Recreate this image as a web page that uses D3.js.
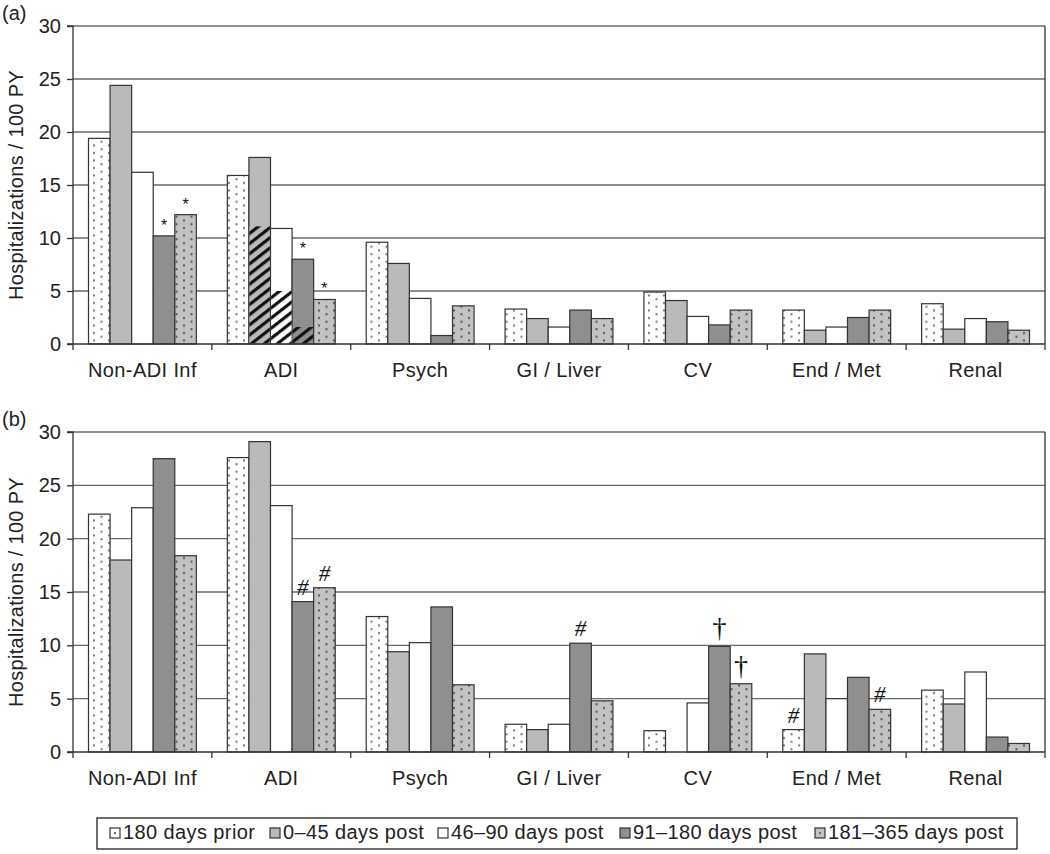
<!DOCTYPE html>
<html><head><meta charset="utf-8">
<script src="https://cdn.jsdelivr.net/npm/d3@7/dist/d3.min.js"></script>
<style>body{margin:0;background:#fff}svg{display:block}</style>
</head><body><svg id="c" width="1050" height="854"></svg>
<script>
const categories = ["Non-ADI Inf","ADI","Psych","GI / Liver","CV","End / Met","Renal"];
const seriesNames = ["180 days prior","0\u201345 days post","46\u201390 days post","91\u2013180 days post","181\u2013365 days post"];
const yTicks = [0,5,10,15,20,25,30];
// panel (a) values per category, series order
const valuesA = [
  [19.4,24.4,16.2,10.2,12.2],
  [15.9,17.6,10.9,8.0,4.2],
  [9.6,7.6,4.3,0.8,3.6],
  [3.3,2.4,1.6,3.2,2.4],
  [4.9,4.1,2.6,1.8,3.2],
  [3.2,1.3,1.6,2.5,3.2],
  [3.8,1.4,2.4,2.1,1.3]
];
// hatched sub-portion of ADI bars in panel (a)
const hatchA = [{cat:"ADI",s:1,v:11.1},{cat:"ADI",s:2,v:5.0},{cat:"ADI",s:3,v:1.6}];
const marksA = [{cat:"Non-ADI Inf",s:3,t:"*"},{cat:"Non-ADI Inf",s:4,t:"*"},{cat:"ADI",s:3,t:"*"},{cat:"ADI",s:4,t:"*"}];
// panel (b)
const valuesB = [
  [22.3,18.0,22.9,27.5,18.4],
  [27.6,29.1,23.1,14.1,15.4],
  [12.7,9.4,10.25,13.6,6.3],
  [2.6,2.1,2.6,10.2,4.8],
  [2.0,0,4.6,9.9,6.4],
  [2.1,9.2,5.0,7.0,4.0],
  [5.8,4.5,7.5,1.4,0.8]
];
const marksB = [{cat:"ADI",s:3,t:"#"},{cat:"ADI",s:4,t:"#"},{cat:"GI / Liver",s:3,t:"#"},{cat:"CV",s:3,t:"\u2020"},{cat:"CV",s:4,t:"\u2020"},{cat:"End / Met",s:0,t:"#"},{cat:"End / Met",s:4,t:"#"}];

const FONT = "Liberation Sans, Arial, Helvetica";
const svg = d3.select("#c");
const defs = svg.append("defs");
function dotPattern(id, bg, dot){
  const p = defs.append("pattern").attr("id",id).attr("patternUnits","userSpaceOnUse").attr("width",15).attr("height",7.5);
  p.append("rect").attr("width",15).attr("height",7.5).attr("fill",bg);
  p.append("rect").attr("x",3).attr("y",2).attr("width",2).attr("height",2).attr("fill",dot);
  p.append("rect").attr("x",10.5).attr("y",5.75).attr("width",2).attr("height",1.75).attr("fill",dot);
  p.append("rect").attr("x",10.5).attr("y",0).attr("width",2).attr("height",0.25).attr("fill",dot);
}
dotPattern("dotW","#ffffff","#7a7a7a");
dotPattern("dotG","#c2c2c2","#555555");
function hatchPattern(id, bg){
  const p = defs.append("pattern").attr("id",id).attr("patternUnits","userSpaceOnUse").attr("width",8).attr("height",8).attr("patternTransform","rotate(-38)");
  p.append("rect").attr("width",8).attr("height",8).attr("fill",bg);
  p.append("rect").attr("y",0).attr("width",8).attr("height",3.2).attr("fill","#111");
}
const fills = ["url(#dotW)","#bababa","#ffffff","#8f8f8f","url(#dotG)"];
const plainFills = ["#fff","#bababa","#ffffff","#8f8f8f","#c2c2c2"];
hatchPattern("h1",plainFills[1]);hatchPattern("h2","#ffffff");hatchPattern("h3",plainFills[3]);
const hatchIds = {1:"url(#h1)",2:"url(#h2)",3:"url(#h3)"};

const left=73,right=1045;
const x0 = d3.scaleBand().domain(categories).range([left,right]).paddingInner(0).paddingOuter(0);
const x1 = d3.scaleBand().domain(d3.range(5)).range([15.5,x0.bandwidth()-15.5]);

function panel(top,bottom,vals,label,marks,hatch,markFont,markSize){
  const y = d3.scaleLinear().domain([0,30]).range([bottom,top]);
  const g = svg.append("g");
  g.selectAll(".grid").data(yTicks.filter(d=>d>0)).join("line")
    .attr("x1",left).attr("x2",right).attr("y1",d=>y(d)).attr("y2",d=>y(d))
    .attr("stroke","#6a6a6a").attr("stroke-width",1.3);
  g.append("line").attr("x1",right).attr("x2",right).attr("y1",y(30)).attr("y2",y(0)).attr("stroke","#333").attr("stroke-width",1.3);
  categories.forEach((c,ci)=>{
    vals[ci].forEach((v,si)=>{
      if(v<=0) return;
      g.append("rect").attr("x",x0(c)+x1(si)).attr("y",y(v)).attr("width",x1.bandwidth()).attr("height",y(0)-y(v))
        .attr("fill",fills[si]).attr("stroke","#333").attr("stroke-width",1.2);
    });
  });
  (hatch||[]).forEach(h=>{
    g.append("rect").attr("x",x0(h.cat)+x1(h.s)+0.6).attr("y",y(h.v)).attr("width",x1.bandwidth()-1.2).attr("height",y(0)-y(h.v)-0.6)
      .attr("fill",hatchIds[h.s]);
  });
  marks.forEach(m=>{
    const v = vals[categories.indexOf(m.cat)][m.s];
    const sans = markFont==="sans";
    const dag = m.t==="\u2020";
    g.append("text").attr("x",x0(m.cat)+x1(m.s)+x1.bandwidth()/2).attr("y",y(v)-(sans?5:(dag?9:7)))
      .attr("text-anchor","middle").attr("font-family",sans?FONT:"Liberation Serif, Times New Roman")
      .attr("font-size",dag?28:markSize).attr("font-style",(!sans && m.t==="#")?"italic":"normal").attr("fill","#111").text(m.t);
  });
  const ya = g.append("g").attr("transform",`translate(${left},0)`).call(d3.axisLeft(y).tickValues(yTicks).tickSize(6).tickPadding(6));
  ya.select(".domain").attr("stroke","#333").attr("stroke-width",1.3).attr("d",`M-6,${y(30)}H0V${y(0)}H-6`);
  ya.selectAll(".tick line").attr("stroke","#333").attr("stroke-width",1.3);
  ya.selectAll("text").attr("font-family",FONT).attr("font-size",20).attr("fill","#222");
  g.append("line").attr("x1",left).attr("x2",right).attr("y1",y(0)).attr("y2",y(0)).attr("stroke","#333").attr("stroke-width",1.3);
  const bounds = categories.map(c=>x0(c)).concat([right]);
  g.selectAll(".xt").data(bounds).join("line").attr("x1",d=>d).attr("x2",d=>d).attr("y1",y(0)).attr("y2",y(0)+6).attr("stroke","#333").attr("stroke-width",1.3);
  g.selectAll(".xl").data(categories).join("text").attr("x",d=>x0(d)+x0.bandwidth()/2).attr("y",y(0)+33)
    .attr("text-anchor","middle").attr("font-family",FONT).attr("font-size",20).attr("letter-spacing",0.4).attr("fill","#222").text(d=>d);
  g.append("text").attr("transform",`translate(23,${(top+bottom)/2}) rotate(-90)`).attr("text-anchor","middle")
    .attr("font-family",FONT).attr("font-size",20).attr("letter-spacing",0.3).attr("fill","#222").text("Hospitalizations / 100 PY");
  g.append("text").attr("x",2).attr("y",top-6).attr("font-family",FONT).attr("font-size",20).attr("fill","#222").text(label);
}
panel(26,344,valuesA,"(a)",marksA,hatchA,"sans",16);
panel(432,752,valuesB,"(b)",marksB,null,"serif",23);

// legend
const lg = svg.append("g");
lg.append("rect").attr("x",97).attr("y",818).attr("width",920).attr("height",31).attr("fill","#fff").attr("stroke","#222").attr("stroke-width",1.3);
const legX = [110,270,438,620,815];
seriesNames.forEach((n,i)=>{
  lg.append("rect").attr("x",legX[i]).attr("y",828).attr("width",10).attr("height",10).attr("fill",i===0?"#fff":plainFills[i]).attr("stroke","#333").attr("stroke-width",1.2);
  if(i===0||i===4){lg.append("rect").attr("x",legX[i]+4).attr("y",832).attr("width",2).attr("height",2).attr("fill","#666");}
  lg.append("text").attr("x",legX[i]+13).attr("y",839).attr("font-family",FONT).attr("font-size",20).attr("letter-spacing",0.4).attr("fill","#222").text(n);
});
</script></body></html>
